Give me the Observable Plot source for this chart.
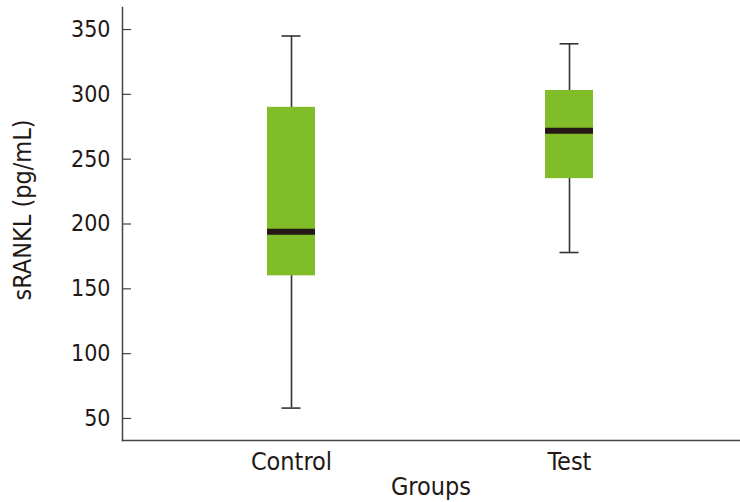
<!DOCTYPE html>
<html>
<head>
<meta charset="utf-8">
<script src="https://cdn.jsdelivr.net/npm/d3@7"></script>
<script src="https://cdn.jsdelivr.net/npm/@observablehq/plot@0.6"></script>
<style>
  html, body { margin: 0; padding: 0; background: #fff; }
  #chart svg { display: block; }
</style>
</head>
<body>
<div id="chart"></div>
<script>
const groups = ["Control", "Test"];
const mins = [58, 178];
const q1s = [160, 235];
const medians = [194, 272];
const q3s = [290, 303];
const maxs = [345, 339];
const yTicks = [50, 100, 150, 200, 250, 300, 350];
const yDomain = [33, 367];
const yLabel = "sRANKL (pg/mL)";
const xLabel = "Groups";

const data = groups.map((g, i) => ({
  group: g, min: mins[i], q1: q1s[i], median: medians[i], q3: q3s[i], max: maxs[i]
}));

const FONT = "'DejaVu Sans Condensed', 'DejaVu Sans', sans-serif";
const axisColor = "#444";
const textColor = "#231815";

const chart = Plot.plot({
  width: 740,
  height: 502,
  marginLeft: 122,
  marginRight: 1,
  marginTop: 7,
  marginBottom: 62,
  style: { fontFamily: FONT, fontStretch: "condensed", background: "#fff" },
  x: { domain: groups, paddingInner: 0.827, paddingOuter: 0.523 },
  y: { domain: yDomain },
  marks: [
    // whiskers
    Plot.ruleX(data, { x: "group", y1: "min", y2: "max", stroke: "#333", strokeWidth: 1.6 }),
    // whisker caps
    Plot.tickY(data, { x: "group", y: "min", stroke: "#333", strokeWidth: 1.6, insetLeft: 14.5, insetRight: 14.5 }),
    Plot.tickY(data, { x: "group", y: "max", stroke: "#333", strokeWidth: 1.6, insetLeft: 14.5, insetRight: 14.5 }),
    // boxes
    Plot.barY(data, { x: "group", y1: "q1", y2: "q3", fill: "#80bd28" }),
    // medians
    Plot.tickY(data, { x: "group", y: "median", stroke: textColor, strokeWidth: 6 }),
    // axis lines
    Plot.frame({ anchor: "left", stroke: axisColor, strokeWidth: 1.5 }),
    Plot.frame({ anchor: "bottom", stroke: axisColor, strokeWidth: 1.5 }),
    // inward y ticks
    Plot.tickY(yTicks, { y: d => d, stroke: axisColor, strokeWidth: 1.2, insetRight: 608 }),
    Plot.axisY({ ticks: yTicks, tickSize: 0, tickPadding: 12, fontSize: 23, label: null, color: textColor }),
    Plot.axisX({ tickSize: 0, tickPadding: 12, fontSize: 25, label: null, color: textColor }),
    Plot.text([yLabel], { frameAnchor: "left", textAnchor: "middle", lineAnchor: "middle", dx: -100, dy: -14, rotate: -90, fontSize: 25, fill: textColor }),
    Plot.text([xLabel], { frameAnchor: "bottom", textAnchor: "middle", lineAnchor: "bottom", dy: 54, fontSize: 25, fill: textColor })
  ]
});

document.getElementById("chart").appendChild(chart);
</script>
</body>
</html>
